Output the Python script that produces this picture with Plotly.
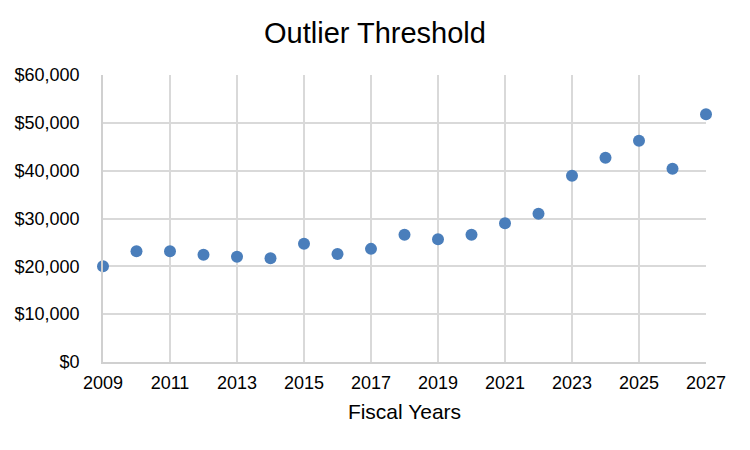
import plotly.graph_objects as go

# fiscal years and outlier threshold values ($)
years = list(range(2009, 2028))
threshold = [20000, 23170, 23170, 22400, 21980, 21700, 24700, 22600, 23650,
             26580, 25680, 26580, 29030, 30980, 38930, 42700, 46260, 40400, 51780]

x_ticks = list(range(2009, 2028, 2))
y_ticks = list(range(0, 60001, 10000))
y_labels = ['$0', '$10,000', '$20,000', '$30,000', '$40,000', '$50,000', '$60,000']

fig = go.Figure(go.Scatter(
    x=years,
    y=threshold,
    mode='markers',
    marker=dict(size=12, color='#4a7ebb'),
    cliponaxis=False,
))

# page body has an 8px margin, so the figure is a bit smaller than the window
fig.update_layout(
    width=742,
    height=442,
    paper_bgcolor='white',
    plot_bgcolor='white',
    font=dict(family='Liberation Sans, Arial, sans-serif', size=18, color='black'),
    title=dict(text='Outlier Threshold', x=0.4946, xanchor='center', y=0.943, yanchor='middle',
               font=dict(size=29, color='black')),
    margin=dict(l=95, r=44, t=67, b=88),
    showlegend=False,
    xaxis=dict(
        title=dict(text='Fiscal Years', standoff=12, font=dict(size=21)),
        range=[2009, 2027],
        tickvals=x_ticks,
        showgrid=True,
        gridcolor='#d9d9d9',
        gridwidth=1.5,
        showline=True,
        linecolor='#d0d0d0',
        linewidth=1.5,
        zeroline=False,
        ticks='',
        ticklabelstandoff=4,
        automargin=False,
    ),
    yaxis=dict(
        range=[0, 60000],
        tickvals=y_ticks,
        ticktext=y_labels,
        showgrid=True,
        gridcolor='#d9d9d9',
        gridwidth=1.5,
        showline=True,
        linecolor='#d0d0d0',
        linewidth=1.5,
        zeroline=False,
        ticks='',
        ticklabelstandoff=18,
        automargin=False,
    ),
)

fig.write_html("out.html")
